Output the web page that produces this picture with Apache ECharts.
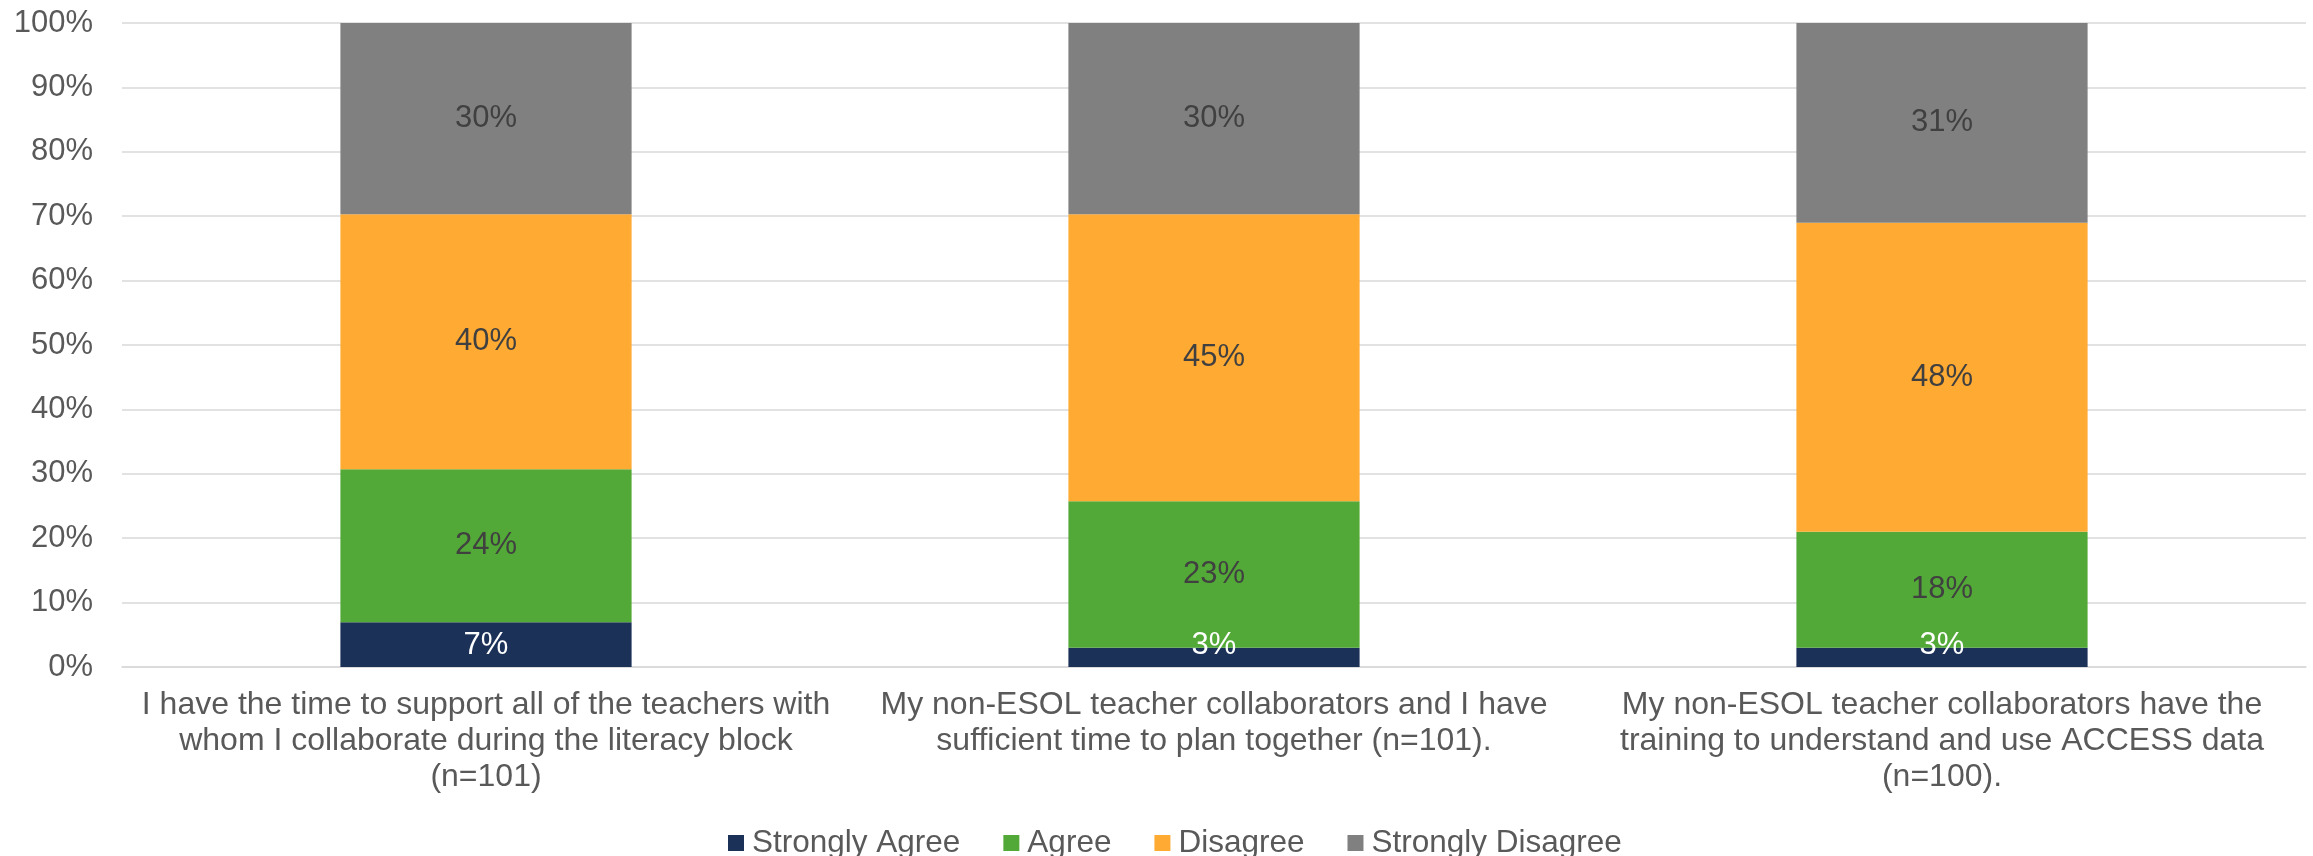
<!DOCTYPE html>
<html>
<head>
<meta charset="utf-8">
<script src="https://cdn.jsdelivr.net/npm/echarts@6/dist/echarts.min.js"></script>
<style>
  html, body { margin: 0; padding: 0; background: #ffffff; }
  #chart { width: 2313px; height: 856px; }
</style>
</head>
<body>
<div id="chart"></div>
<script>
// Survey statements (x-axis categories)
const categories = [
  'I have the time to support all of the teachers with\nwhom I collaborate during the literacy block\n(n=101)',
  'My non-ESOL teacher collaborators and I have\nsufficient time to plan together (n=101).',
  'My non-ESOL teacher collaborators have the\ntraining to understand and use ACCESS data\n(n=100).'
];

// Response shares in percent, as reported
const stronglyAgree    = [7, 3, 3];
const agree            = [24, 23, 18];
const disagree         = [40, 45, 48];
const stronglyDisagree = [30, 30, 31];

const seriesNames  = ['Strongly Agree', 'Agree', 'Disagree', 'Strongly Disagree'];
const seriesValues = [stronglyAgree, agree, disagree, stronglyDisagree];
const seriesColors = ['#1B3158', '#53A937', '#FEAA33', '#808080'];

// Y-axis ticks
const yTicks = [0, 10, 20, 30, 40, 50, 60, 70, 80, 90, 100];

// 100% stacked: each column is scaled by its own total
const totals = categories.map((_, i) =>
  seriesValues.reduce((s, arr) => s + arr[i], 0));

const FONT = '"Liberation Sans", Arial, sans-serif';
const TEXT = '#595959';

const series = seriesValues.map((vals, k) => ({
  name: seriesNames[k],
  type: 'bar',
  stack: 'total',
  barWidth: '40%',
  itemStyle: { color: seriesColors[k] },
  emphasis: { disabled: true },
  data: vals.map((v, i) => v / totals[i] * 100),
  label: {
    show: true,
    position: k === 0 ? 'insideBottom' : 'inside',
    distance: k === 0 ? 6 : 5,
    fontFamily: FONT,
    fontSize: 31,
    color: k === 0 ? '#FFFFFF' : '#404040',
    formatter: p => vals[p.dataIndex] + '%'
  }
}));

const chart = echarts.init(document.getElementById('chart'), null, { renderer: 'canvas' });
chart.setOption({
  animation: false,
  backgroundColor: '#ffffff',
  textStyle: { fontFamily: FONT },
  grid: { left: 122, right: 7, top: 23, bottom: 189, containLabel: false },
  legend: {
    data: seriesNames,
    left: 723,
    top: 822,
    itemWidth: 16,
    itemHeight: 16,
    itemGap: 43,
    icon: 'rect',
    textStyle: { fontFamily: FONT, fontSize: 31.5, color: TEXT, padding: [0, 0, 0, 3] }
  },
  xAxis: {
    type: 'category',
    data: categories,
    axisLine: { show: true, lineStyle: { color: '#D9D9D9', width: 1.5 } },
    axisTick: { show: false },
    axisLabel: {
      interval: 0,
      margin: 20,
      fontFamily: FONT,
      fontSize: 32,
      lineHeight: 36,
      color: TEXT,
      align: 'center'
    }
  },
  yAxis: {
    type: 'value',
    min: yTicks[0],
    max: yTicks[yTicks.length - 1],
    interval: yTicks[1] - yTicks[0],
    axisLine: { show: false },
    axisTick: { show: false },
    splitLine: { lineStyle: { color: '#D9D9D9', width: 1.5 } },
    axisLabel: {
      margin: 29,
      fontFamily: FONT,
      fontSize: 31,
      color: TEXT,
      formatter: '{value}%'
    }
  },
  series: series
});
</script>
</body>
</html>
